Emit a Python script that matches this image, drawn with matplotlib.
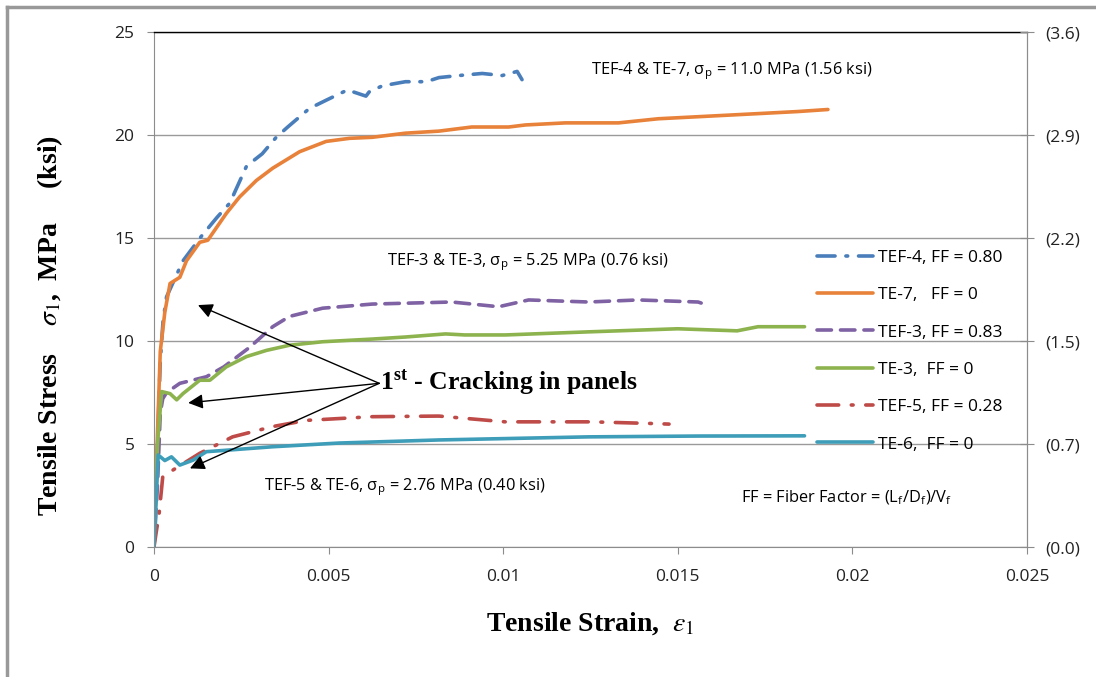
import numpy as np
import matplotlib
matplotlib.use("Agg")
import matplotlib.pyplot as plt
from matplotlib.lines import Line2D

plt.rcParams["mathtext.fontset"] = "stix"

# strain / stress (MPa)
tef4_x = [0, 0.00008, 0.00018, 0.00026, 0.00036, 0.00083, 0.00136, 0.0018, 0.00217, 0.00265, 0.0031,
          0.0035, 0.00383, 0.00445, 0.00493, 0.00554, 0.00607, 0.00616, 0.00654, 0.0072, 0.0078,
          0.00816, 0.00873, 0.0094, 0.00997, 0.0104, 0.01054]
tef4_y = [0, 4.0, 9.0, 11.0, 12.15, 13.9, 15.1, 16.0, 16.7, 18.5, 19.1,
          19.9, 20.4, 21.3, 21.7, 22.2, 21.9, 22.1, 22.4, 22.6, 22.6,
          22.8, 22.9, 23.0, 22.9, 23.1, 22.7]

te7_x = [0, 0.00008, 0.00018, 0.00031, 0.00046, 0.00074, 0.00093, 0.00131, 0.00154, 0.00207, 0.00245,
         0.00293, 0.0034, 0.00417, 0.00493, 0.0056, 0.00625, 0.0072, 0.00816, 0.0091, 0.01016,
         0.01064, 0.01178, 0.01244, 0.0133, 0.01444, 0.01558, 0.0173, 0.01843, 0.0193]
te7_y = [0, 4.5, 9.5, 11.4, 12.8, 13.1, 13.9, 14.8, 14.9, 16.2, 17.0,
         17.8, 18.4, 19.2, 19.7, 19.85, 19.9, 20.1, 20.2, 20.4, 20.4,
         20.5, 20.6, 20.6, 20.6, 20.8, 20.9, 21.05, 21.15, 21.25]

tef3_x = [0, 0.0001, 0.00018, 0.00025, 0.00036, 0.00074, 0.0015, 0.002, 0.00274, 0.0034, 0.00388,
          0.00483, 0.00625, 0.00853, 0.00987, 0.01073, 0.01244, 0.01387, 0.01558, 0.01567]
tef3_y = [0, 3.0, 6.5, 7.2, 7.5, 7.95, 8.27, 8.75, 9.7, 10.7, 11.2,
          11.6, 11.8, 11.9, 11.67, 12.0, 11.9, 12.0, 11.9, 11.85]

te3_x = [0, 0.0001, 0.00022, 0.00046, 0.00065, 0.00083, 0.00131, 0.0016, 0.00207, 0.00265, 0.00322,
         0.00388, 0.00483, 0.00625, 0.0072, 0.00835, 0.0089, 0.01006, 0.01244, 0.015, 0.0167,
         0.0173, 0.01863]
te3_y = [0, 5.0, 7.55, 7.45, 7.15, 7.45, 8.1, 8.1, 8.75, 9.25, 9.55,
         9.8, 9.97, 10.1, 10.2, 10.35, 10.3, 10.3, 10.45, 10.6, 10.5,
         10.7, 10.7]

tef5_x = [0, 0.00008, 0.00014, 0.00025, 0.00046, 0.00131, 0.00225, 0.0034, 0.00436, 0.00625, 0.00816,
          0.01006, 0.01253, 0.01424, 0.01475]
tef5_y = [0, 0.9, 1.5, 3.4, 3.65, 4.55, 5.35, 5.85, 6.15, 6.33, 6.36,
          6.08, 6.08, 6.0, 5.97]

te6_x = [0, 0.00012, 0.00031, 0.0005, 0.00074, 0.00112, 0.0015, 0.00207, 0.0034, 0.0053, 0.00816,
         0.01244, 0.0156, 0.01863]
te6_y = [0, 4.47, 4.2, 4.38, 3.98, 4.22, 4.63, 4.7, 4.87, 5.05, 5.2,
         5.35, 5.39, 5.4]

labels = ["TEF-4, FF = 0.80", "TE-7,   FF = 0", "TEF-3, FF = 0.83",
          "TE-3,  FF = 0", "TEF-5, FF = 0.28", "TE-6,  FF = 0"]
colors = ["#4A7EBB", "#E8823A", "#7E62A3", "#8DB34F", "#BE4B48", "#3E9DB8"]
dashes = [(5, 3, 0.5, 3), None, (4, 2.5), None, (6, 3.5, 0.5, 3.5), None]

yticks = [0, 5, 10, 15, 20, 25]
ksi_labels = ["(0.0)", "(0.7)", "(1.5)", "(2.2)", "(2.9)", "(3.6)"]
xticks = [0, 0.005, 0.01, 0.015, 0.02, 0.025]
xticklabels = ["0", "0.005", "0.01", "0.015", "0.02", "0.025"]

fig = plt.figure(figsize=(10.96, 6.77), dpi=100)
ax = fig.add_axes([0.1405, 0.192, 0.9370 - 0.1405, 0.9523 - 0.192])

series = [(tef4_x, tef4_y), (te7_x, te7_y), (tef3_x, tef3_y),
          (te3_x, te3_y), (tef5_x, tef5_y), (te6_x, te6_y)]
handles = []
for (xs, ys), lab, c, d in zip(series, labels, colors, dashes):
    ln, = ax.plot(xs, ys, color=c, lw=2.6, label=lab, solid_capstyle="round",
                  dash_capstyle="round")
    if d is not None:
        ln.set_dashes(d)
    handles.append(ln)

ax.set_xlim(0, 0.025)
ax.set_ylim(0, 25)
ax.set_xticks(xticks)
ax.set_xticklabels(xticklabels)
ax.set_yticks(yticks)
ax.grid(axis="y", color="#9a9a9a", lw=1.0)
ax.set_axisbelow(True)

grey = "#8c8c8c"
for s in ["left", "bottom", "right"]:
    ax.spines[s].set_color(grey)
ax.spines["top"].set_color("black")
ax.spines["top"].set_linewidth(1.0)
ax.tick_params(axis="both", colors=grey, labelcolor="#222222", labelsize=12.5, length=5)
ax.tick_params(axis="x", pad=11)
ax.tick_params(axis="y", pad=9)
for t in ax.get_xticklabels() + ax.get_yticklabels():
    t.set_family("Open Sans")

ax2 = ax.twinx()
ax2.set_ylim(0, 25)
ax2.set_yticks(yticks)
ax2.set_yticklabels(ksi_labels, family="Open Sans")
ax2.tick_params(axis="y", direction="inout", length=10, colors=grey, labelcolor="#222222",
                labelsize=12.5, pad=8)
for s in ["left", "bottom", "top"]:
    ax2.spines[s].set_visible(False)
ax2.spines["right"].set_color(grey)

ax.set_xlabel(r"Tensile Strain,  $\varepsilon_1$", family="Liberation Serif", fontweight="bold",
              fontsize=20, labelpad=18)
ax.set_ylabel(r"Tensile Stress    $\sigma_1$,  MPa     (ksi)", family="Liberation Serif",
              fontweight="bold", fontsize=20)
ax.yaxis.set_label_coords(-0.102, 0.43)

leg = ax.legend(handles=handles, loc="center left", bbox_to_anchor=(0.7595, 0.3806),
                frameon=False, prop={"family": "Open Sans", "size": 12.5},
                borderaxespad=0, borderpad=0,
                handlelength=3.2, handletextpad=0.3, labelspacing=1.22)

txt = dict(family="Open Sans", fontsize=11.8, color="black")
ax.text(0.01654, 23.1, r"TEF-4 & TE-7, σ$_\mathregular{p}$ = 11.0 MPa (1.56 ksi)", ha="center", va="center", **txt)
ax.text(0.0107, 13.85, r"TEF-3 & TE-3, σ$_\mathregular{p}$ = 5.25 MPa (0.76 ksi)", ha="center", va="center", **txt)
ax.text(0.00719, 2.9, r"TEF-5 & TE-6, σ$_\mathregular{p}$ = 2.76 MPa (0.40 ksi)", ha="center", va="center", **txt)
ax.text(0.0168, 2.45, r"FF = Fiber Factor = (L$_\mathregular{f}$/D$_\mathregular{f}$)/V$_\mathregular{f}$",
        ha="left", va="center", **txt)

ax.text(0.00648, 7.95, r"1$^\mathregular{st}$ - Cracking in panels", family="Liberation Serif",
        fontweight="bold", fontsize=18.5, ha="left", va="center")
tips = [(0.00126, 11.75), (0.00098, 7.0), (0.00103, 3.82)]
for tx, ty in tips:
    ax.annotate("", xy=(tx, ty), xytext=(0.00645, 7.95),
                arrowprops=dict(arrowstyle="-|>", color="black", lw=1.0,
                                mutation_scale=22, shrinkA=0, shrinkB=0))

# outer frame (left and top edges visible in the reference)
fig.add_artist(Line2D([0.0065, 0.0065], [0, 0.99], transform=fig.transFigure, color="#999999", lw=2.5))
fig.add_artist(Line2D([0.0065, 1.0], [0.99, 0.99], transform=fig.transFigure, color="#999999", lw=2.5))

fig.savefig("out.png", dpi=100)
